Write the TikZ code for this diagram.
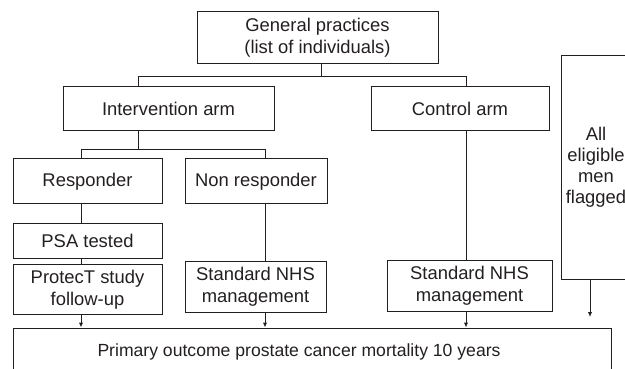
\documentclass[tikz,border=0pt]{standalone}
\usepackage{fontspec}
\setmainfont{Liberation Sans}
\usepackage{xcolor}
\usepackage{tikz}
\usetikzlibrary{arrows.meta}
\definecolor{inkColor}{RGB}{35, 31, 32}

\begin{document}
\begin{tikzpicture}[x=1pt, y=-1pt, inkColor, line width=1pt,
		font=\fontsize{18.4}{22}\selectfont,
		box/.style={draw, rectangle, inner sep=0pt, align=center},
		link/.style={draw},
		arr/.style={-{Latex[length=5pt, width=4.5pt]}}]
			\useasboundingbox (0, 0) rectangle (625, 369);
			
			% Drop positions of the connectors
			\coordinate (gpX) at (321, 0);
			\coordinate (intX) at (138, 0);
			\coordinate (respX) at (81, 0);
			\coordinate (nonrX) at (265, 0);
			\coordinate (ctlX) at (466, 0);
			\coordinate (allX) at (590, 0);
			
			% Boxes
			\node[box, minimum width=241pt, minimum height=52pt] (gp) at (317.5, 38) {General practices\\(list of individuals)};
			\node[box, minimum width=211pt, minimum height=44pt] (int) at (168.5, 109) {Intervention arm};
			\node[box, minimum width=178pt, minimum height=44pt] (ctl) at (460, 109) {Control arm};
			\node[box, minimum width=149pt, minimum height=45pt] (resp) at (87.5, 181.5) {Responder};
			\node[box, minimum width=142pt, minimum height=45pt] (nonr) at (256, 181.5) {Non responder};
			\node[box, minimum width=149pt, minimum height=35pt] (psa) at (87.5, 240.5) {PSA tested};
			\node[box, minimum width=149pt, minimum height=50pt] (protect) at (87.5, 289.5) {ProtecT study\\follow-up};
			\node[box, minimum width=141pt, minimum height=51pt] (nhsA) at (255.5, 286.5) {Standard NHS\\management};
			\node[box, minimum width=165pt, minimum height=51pt] (nhsB) at (469.5, 285.5) {Standard NHS\\management};
			\node[box, minimum width=70pt, minimum height=223pt, font=\fontsize{18.4}{21}\selectfont] (all) at (596, 167.5) {All\\eligible\\men\\flagged};
			\node[box, minimum width=598pt, minimum height=48pt, font=\fontsize{17.6}{21}\selectfont] (main) at (312, 352) {Primary outcome prostate cancer mortality 10 years\hspace*{26pt}};
			
			% Tree lines
			\draw[link] (gp.south -| gpX) -- ++(0, 12) coordinate (gpBar);
			\draw[link] (int.north -| intX) |- (gpBar) -| (ctl.north -| ctlX);
			\draw[link] (int.south -| intX) -- ++(0, 18) coordinate (intBar);
			\draw[link] (resp.north -| respX) |- (intBar) -| (nonr.north -| nonrX);
			\draw[link] (resp.south -| respX) -- (psa.north -| respX);
			\draw[link] (psa.south -| respX) -- (protect.north -| respX);
			\draw[link] (nonr.south -| nonrX) -- (nhsA.north -| nonrX);
			\draw[link] (ctl.south -| ctlX) -- (nhsB.north -| ctlX);
			
			% Arrows into the outcome
			\draw[arr] (protect.south -| respX) -- (main.north -| respX);
			\draw[arr] (nhsA.south -| nonrX) -- (main.north -| nonrX);
			\draw[arr] (nhsB.south -| ctlX) -- (main.north -| ctlX);
			\coordinate (allEnd) at (590, 317);
			\draw[arr] (all.south -| allX) -- (allEnd);
		\end{tikzpicture}
\end{document}
